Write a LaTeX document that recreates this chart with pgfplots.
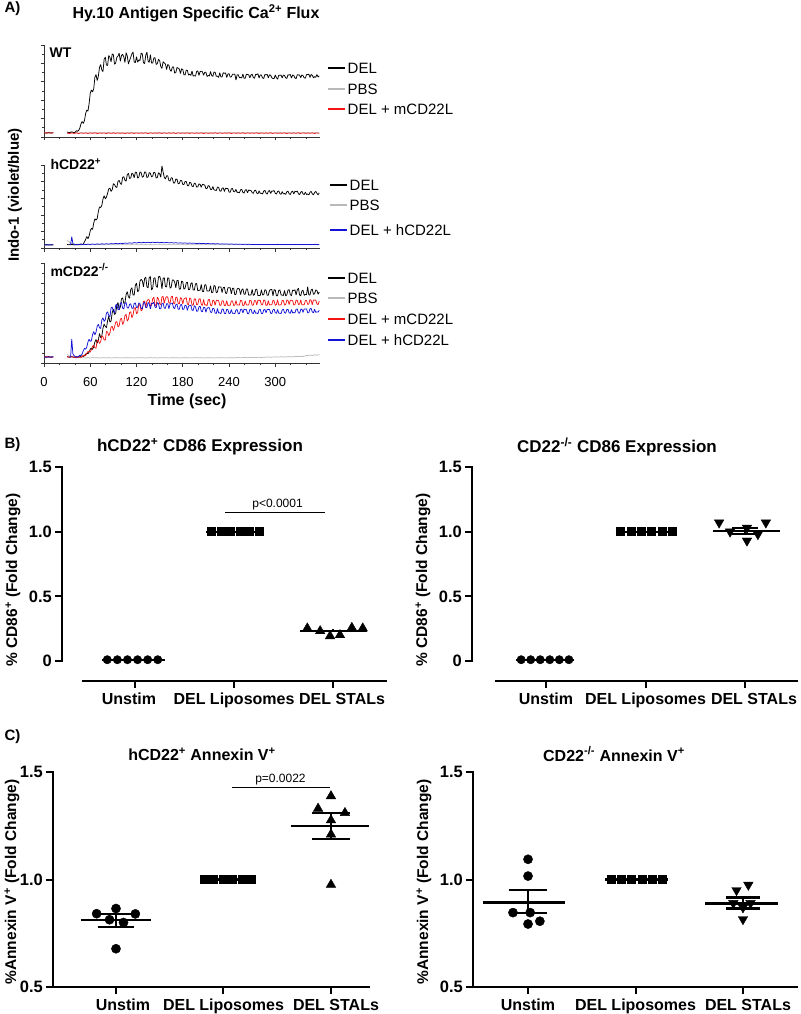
\documentclass[border=0pt]{standalone}
\usepackage{pgfplots}
\pgfplotsset{compat=1.18}
\usepackage{pgfplotstable}
\usepackage{fontspec}
\setmainfont{Liberation Sans}
\newcommand{\fs}[1]{\fontsize{#1}{#1}\selectfont}
\definecolor{tred}{RGB}{245,20,20}
\definecolor{tblue}{RGB}{20,20,215}
\definecolor{tgray}{RGB}{185,185,185}

\pgfplotstableread{
t wtdel wtpbs wtm hdel hpbs hh mdel mpbs mm mh
0 4.6 4.5 4.8 3.8 3.6 4.0 6.2 6.0 5.8 6.3
3 4.2 4.6 4.3 4.1 3.9 3.5 5.8 6.3 6.4 5.7
6 4.8 4.4 4.6 3.6 4.0 3.9 6.4 5.9 6.0 6.1
9 4.3 4.7 4.2 4.0 3.7 3.6 5.9 6.2 5.6 5.8
12 4.6 4.5 4.7 3.7 3.8 4.1 6.1 6.0 6.2 6.4
13 nan nan nan nan nan nan nan nan nan nan
30 5.4 4.6 4.1 4.3 9.5 nan 6.3 8.5 6.4 nan
31.5 5.0 4.5 4.3 4.0 8.2 nan 6.0 7.8 6.0 nan
33 4.7 4.3 3.7 3.8 7.0 4.4 5.8 7.2 5.7 6.1
34.5 5.2 4.6 4.0 4.1 6.0 4.3 6.1 6.7 6.0 5.9
36 5.6 4.8 4.5 4.4 5.2 13.5 6.4 6.3 6.3 24.0
37.5 5.1 4.5 4.2 4.0 4.7 5.2 6.0 5.9 6.0 9.0
39 4.6 4.4 3.9 3.7 4.3 4.6 5.7 5.6 5.8 7.4
40.5 5.3 4.5 4.2 4.0 4.2 4.2 6.0 5.4 5.5 6.4
42 6.8 4.7 4.6 4.2 4.1 3.8 6.3 5.3 5.2 5.7
43.5 6.2 4.5 4.1 4.0 4.0 4.1 6.1 5.4 5.6 6.2
45 7.2 4.3 3.8 3.8 3.9 4.5 5.8 5.5 6.0 6.6
46.5 9.8 4.5 4.2 4.4 4.0 4.3 6.2 5.3 5.9 7.9
48 14.5 4.6 4.4 4.9 4.2 3.9 7.0 5.2 5.6 7.4
49.5 16.9 4.5 4.3 4.4 4.0 4.2 6.9 5.3 6.4 9.1
51 14.8 4.4 4.0 4.6 3.8 4.6 6.6 5.4 7.6 12.3
52.5 18.0 4.5 4.1 7.6 4.0 4.4 7.3 5.2 7.9 14.6
54 25.4 4.7 4.5 10.3 4.1 4.1 8.9 5.1 7.4 13.8
55.5 29.3 4.5 4.2 13.9 4.0 4.3 9.9 5.3 9.6 16.1
57 28.1 4.3 3.9 11.2 3.9 4.7 9.2 5.5 11.4 20.9
58.5 36.2 4.5 4.3 14.4 4.0 4.5 10.8 5.2 11.8 23.8
60 47.6 4.6 4.4 20.7 4.2 4.2 13.8 5.0 10.9 21.6
61.5 51.1 4.5 4.1 23.8 4.0 4.5 14.9 5.2 13.2 22.4
63 49.0 4.5 4.0 22.3 4.0 4.9 13.6 5.3 16.8 28.4
64.5 52.3 4.5 4.2 30.1 4.0 4.6 16.4 5.2 17.6 31.5
66 64.8 4.4 4.6 35.1 3.8 4.3 20.9 5.1 15.2 28.1
67.5 67.9 4.5 4.3 33.6 4.0 4.6 23.6 5.2 14.8 30.9
69 61.3 4.7 3.8 35.5 4.1 5.0 19.8 5.4 22.7 36.7
70.5 66.2 4.5 4.1 44.1 4.0 4.7 22.9 5.2 22.8 38.7
72 75.6 4.3 4.5 49.4 3.9 4.4 29.5 5.0 19.6 35.2
73.5 78.8 4.5 4.2 48.8 4.0 4.8 25.4 5.1 21.3 34.5
75 72.9 4.6 4.1 51.2 4.2 5.1 27.1 5.2 27.3 42.9
76.5 71.1 4.5 4.3 58.9 4.0 4.8 34.8 5.2 26.1 45.2
78 84.4 4.4 4.4 63.1 4.0 4.6 38.9 5.3 23.1 41.5
79.5 86.9 4.5 4.1 59.2 4.0 4.9 36.5 5.2 22.9 43.3
81 78.2 4.5 3.8 61.4 3.8 5.2 35.4 5.1 31.6 49.8
82.5 77.8 4.5 4.2 66.0 4.0 4.9 42.2 5.2 31.0 51.2
84 88.6 4.6 4.5 71.3 4.1 4.7 46.8 5.4 27.2 47.6
85.5 86.6 4.5 4.3 72.1 4.0 5.0 40.9 5.2 30.1 46.1
87 81.7 4.3 4.0 68.2 3.9 5.3 42.1 5.0 35.9 55.1
88.5 90.4 4.5 4.1 70.3 4.0 5.1 50.3 5.1 36.7 55.9
90 89.3 4.7 4.6 77.5 4.2 5.0 53.7 5.2 32.4 51.7
91.5 79.1 4.5 4.2 76.4 4.0 5.2 48.5 5.3 35.9 50.2
93 80.4 4.4 3.9 73.6 4.0 5.5 49.8 5.4 40.8 57.9
94.5 86.7 4.5 4.3 72.9 4.0 5.3 57.8 5.2 41.4 58.8
96 87.9 4.5 4.3 80.4 4.1 5.1 60.6 5.1 36.1 53.3
97.5 91.2 4.5 4.1 81.4 4.0 5.4 53.2 5.2 37.2 53.6
99 82.3 4.6 4.0 77.8 3.9 5.7 55.9 5.3 43.7 59.4
100.5 88.6 4.5 4.2 76.6 4.0 5.5 64.1 5.1 44.8 60.6
102 89.8 4.4 4.5 85.1 4.2 5.4 65.2 5.0 38.5 54.8
103.5 87.2 4.5 4.3 86.0 4.0 5.6 59.6 5.3 40.9 54.1
105 80.9 4.3 3.8 81.6 4.0 6.0 60.3 5.2 47.2 59.9
106.5 91.7 4.5 4.1 80.5 4.0 5.8 68.4 5.2 48.6 60.4
108 88.1 4.6 4.4 88.3 4.1 5.6 71.4 5.4 41.9 55.2
109.5 79.4 4.5 4.2 89.9 4.0 5.9 66.2 5.2 43.9 54.9
111 83.2 4.5 4.1 83.7 3.9 6.2 64.8 5.1 50.6 58.7
112.5 86.6 4.5 4.3 84.4 4.0 6.0 73.5 5.2 51.2 59.2
114 90.4 4.4 4.6 90.2 4.2 5.8 75.3 5.3 45.3 54.9
115.5 92.3 4.5 4.1 89.1 4.0 6.1 67.9 5.1 47.9 54.6
117 81.6 4.7 3.9 84.6 4.0 6.5 68.1 5.0 54.7 59.6
118.5 80.9 4.5 4.2 91.3 4.0 6.3 77.8 5.2 55.4 60.1
120 87.3 4.3 4.4 91.1 4.1 6.0 79.9 5.2 49.2 55.3
121.5 81.2 4.5 4.3 84.2 4.0 6.4 71.3 5.3 50.9 55.9
123 83.9 4.6 4.0 85.4 3.9 6.7 72.4 5.4 58.8 60.1
124.5 83.1 4.5 4.1 91.8 4.0 6.5 82.1 5.2 57.6 59.5
126 91.2 4.5 4.5 90.6 4.2 6.2 83.6 5.1 52.1 54.6
127.5 90.3 4.5 4.2 85.3 4.0 6.5 82.4 5.2 53.4 54.3
129 80.7 4.4 4.1 86.2 4.0 6.8 76.2 5.3 61.5 59.8
130.5 79.8 4.5 4.3 91.5 4.0 6.6 84.4 5.1 61.9 60.8
132 88.8 4.6 4.6 91.4 4.1 6.3 85.9 5.0 55.3 55.7
133.5 92.3 4.5 4.1 84.9 4.0 6.6 76.2 5.3 62.1 55.4
135 82.6 4.3 3.8 85.7 3.9 6.9 75.1 5.2 63.4 60.6
136.5 81.1 4.5 4.2 90.8 4.0 6.7 85.6 5.2 63.1 59.2
138 89.5 4.5 4.4 90.1 4.2 6.4 86.4 5.4 56.9 54.1
139.5 80.4 4.5 4.3 85.6 4.0 6.7 73.1 5.2 57.8 59.8
141 80.3 4.7 4.0 86.8 4.0 7.0 74.8 5.1 64.2 59.3
142.5 85.9 4.5 4.1 91.4 4.0 6.7 84.8 5.2 65.7 60.8
144 86.2 4.4 4.5 90.7 4.1 6.5 85.2 5.3 58.1 55.8
145.5 78.8 4.5 4.2 84.2 4.0 6.7 76.7 5.1 57.2 55.4
147 79.8 4.6 4.1 84.9 3.9 6.9 75.6 5.0 65.7 60.4
148.5 84.5 4.5 4.3 90.7 4.0 6.6 86.1 5.3 64.1 59.3
150 83.1 4.3 4.6 89.4 4.2 6.4 86.7 5.2 59.2 54.2
151.5 76.4 4.5 4.1 85.1 4.0 6.6 83.1 5.2 58.3 54.3
153 74.6 4.5 3.9 99.0 4.0 6.8 74.2 5.4 66.1 59.5
154.5 81.9 4.5 4.2 91.5 4.0 6.5 84.6 5.2 66.5 59.8
156 80.4 4.6 4.4 85.2 4.1 6.3 85.3 5.1 59.6 54.9
157.5 79.4 4.5 4.3 83.1 4.0 6.5 76.4 5.2 64.8 54.8
159 73.2 4.4 4.0 86.9 3.9 6.7 76.1 5.3 66.4 59.2
160.5 78.8 4.5 4.1 86.9 4.0 6.4 85.2 5.1 65.9 59.2
162 77.9 4.5 4.5 81.3 4.2 6.2 84.7 5.0 60.1 54.3
163.5 72.9 4.5 4.2 80.6 4.0 6.4 74.8 5.3 59.8 58.9
165 71.4 4.3 4.1 84.8 4.0 6.5 75.8 5.2 66.2 59.7
166.5 76.1 4.5 4.3 84.1 4.0 6.3 83.1 5.2 66.8 59.9
168 76.2 4.6 4.6 78.2 4.1 6.1 82.9 5.4 59.8 55.4
169.5 69.4 4.5 4.1 78.4 4.0 6.2 81.0 5.2 59.2 54.4
171 70.1 4.4 3.8 83.1 3.9 6.4 75.2 5.1 65.9 58.3
172.5 75.6 4.5 4.2 82.8 4.0 6.1 82.6 5.2 65.4 58.9
174 74.8 4.7 4.4 77.4 4.2 6.0 82.6 5.3 59.7 53.8
175.5 74.0 4.5 4.3 77.9 4.0 6.1 73.8 5.1 59.1 53.7
177 68.9 4.5 4.0 81.2 4.0 6.2 74.1 5.0 65.4 58.1
178.5 74.1 4.5 4.1 81.3 4.0 6.0 81.9 5.3 64.4 58.5
180 73.4 4.3 4.5 76.6 4.1 5.8 81.3 5.2 59.0 53.5
181.5 67.6 4.5 4.2 76.4 4.0 5.9 73.8 5.2 63.9 53.9
183 67.5 4.6 4.1 80.1 3.9 6.1 74.7 5.4 64.8 57.9
184.5 72.8 4.5 4.3 80.2 4.0 5.9 80.2 5.2 65.2 57.2
186 72.2 4.4 4.6 75.3 4.2 5.7 80.8 5.1 58.9 52.6
187.5 67.4 4.5 4.1 74.9 4.0 5.8 73.1 5.2 58.3 56.9
189 68.3 4.5 3.9 79.2 4.0 6.0 73.6 5.3 65.1 57.4
190.5 67.0 4.5 4.2 78.5 4.0 5.8 79.4 5.1 64.0 57.9
192 71.8 4.6 4.4 74.6 4.1 5.6 80.4 5.0 58.3 52.8
193.5 66.2 4.5 4.3 73.8 4.0 5.7 72.9 5.3 57.6 52.6
195 66.7 4.3 4.0 78.1 3.9 5.8 72.9 5.2 64.2 57.3
196.5 66.1 4.5 4.1 77.4 4.0 5.6 79.2 5.2 63.9 56.2
198 71.3 4.5 4.5 73.4 4.2 5.4 79.5 5.4 58.4 51.7
199.5 71.9 4.5 4.2 73.8 4.0 5.5 72.1 5.2 58.7 51.9
201 66.9 4.4 4.1 77.2 4.0 5.7 72.8 5.1 63.9 56.2
202.5 71.1 4.5 4.3 76.6 4.0 5.5 72.8 5.2 64.4 56.8
204 71.5 4.7 4.6 73.1 4.1 5.3 78.6 5.3 58.7 51.9
205.5 70.9 4.5 4.1 76.8 4.0 5.4 71.6 5.1 57.6 51.2
207 67.2 4.5 3.8 76.3 3.9 5.5 71.4 5.0 63.6 55.6
208.5 70.4 4.5 4.2 75.8 4.0 5.3 78.1 5.3 58.0 55.6
210 70.4 4.3 4.4 71.6 4.2 5.2 78.2 5.2 58.2 50.8
211.5 65.7 4.5 4.3 71.7 4.0 5.3 71.9 5.2 57.3 54.6
213 66.8 4.6 4.0 75.2 4.0 5.4 72.1 5.4 63.2 55.4
214.5 66.4 4.5 4.1 74.6 4.0 5.2 72.1 5.2 63.6 55.3
216 71.1 4.4 4.5 70.7 4.1 5.0 77.3 5.1 57.9 50.9
217.5 66.8 4.5 4.2 70.4 4.0 5.1 70.3 5.2 57.2 50.5
219 65.9 4.5 4.1 74.1 3.9 5.3 70.8 5.3 62.8 54.7
220.5 70.6 4.5 4.3 70.1 4.0 5.1 77.6 5.1 62.3 54.3
222 70.3 4.6 4.6 69.6 4.2 4.9 76.9 5.0 57.6 49.8
223.5 65.9 4.5 4.1 69.3 4.0 5.0 70.1 5.3 62.7 49.6
225 66.2 4.3 3.9 73.4 4.0 5.1 71.2 5.2 62.6 54.5
226.5 64.8 4.5 4.2 73.1 4.0 5.0 76.2 5.2 62.4 50.0
228 69.8 4.5 4.4 68.8 4.1 4.8 76.1 5.4 57.7 50.2
229.5 65.1 4.5 4.3 68.4 4.0 4.9 76.0 5.2 57.6 49.4
231 65.4 4.4 4.0 72.1 3.9 5.0 70.4 5.1 62.3 54.0
232.5 69.9 4.5 4.1 72.4 4.0 4.9 75.4 5.2 62.1 53.7
234 69.2 4.7 4.5 68.2 4.2 4.7 75.8 5.3 57.4 49.7
235.5 69.7 4.5 4.2 72.0 4.0 4.8 69.9 5.1 57.7 49.2
237 64.6 4.5 4.1 71.6 4.0 4.9 69.5 5.0 62.4 53.6
238.5 68.4 4.5 4.3 71.7 4.0 4.8 75.1 5.3 57.5 53.4
240 68.9 4.3 4.6 67.4 4.1 4.6 75.4 5.2 57.8 49.5
241.5 65.1 4.5 4.1 67.2 4.0 4.7 75.2 5.2 57.8 49.7
243 65.3 4.6 3.8 71.3 3.9 4.8 69.2 5.4 62.1 53.4
244.5 68.2 4.5 4.2 71.6 4.0 4.7 74.6 5.2 62.1 49.6
246 68.1 4.4 4.4 67.8 4.2 4.5 74.9 5.1 57.6 49.8
247.5 68.4 4.5 4.3 67.9 4.0 4.6 68.2 5.2 57.9 49.3
249 61.8 4.5 4.0 70.6 4.0 4.7 68.7 5.3 62.5 53.1
250.5 67.5 4.5 4.1 66.9 4.0 4.6 74.1 5.4 57.9 53.4
252 67.6 4.6 4.5 67.2 4.1 4.4 74.6 5.5 57.9 49.3
253.5 64.4 4.5 4.2 66.4 4.0 4.5 73.9 5.3 58.1 49.2
255 64.7 4.3 4.1 70.1 3.9 4.6 68.4 5.2 62.7 53.5
256.5 64.2 4.5 4.3 70.7 4.0 4.5 73.2 5.3 62.2 53.8
258 68.4 4.5 4.6 66.9 4.2 4.3 74.2 5.4 57.4 49.9
259.5 63.8 4.5 4.1 66.1 4.0 4.4 68.7 5.5 57.8 53.9
261 63.9 4.4 3.9 69.8 4.0 4.5 68.9 5.6 62.2 53.2
262.5 68.2 4.5 4.2 70.3 4.0 4.4 74.1 5.4 58.1 53.5
264 67.9 4.6 4.4 66.5 4.1 4.3 73.8 5.3 58.1 49.4
265.5 67.6 4.5 4.3 69.9 4.0 4.4 67.8 5.4 58.1 49.3
267 64.3 4.5 4.0 69.4 3.9 4.4 68.1 5.5 62.9 53.6
268.5 67.5 4.5 4.1 69.2 4.0 4.3 68.1 5.6 62.5 53.9
270 68.2 4.3 4.5 66.8 4.2 4.2 73.6 5.7 57.8 50.1
271.5 64.7 4.5 4.2 65.8 4.0 4.3 67.6 5.5 57.9 49.4
273 63.8 4.6 4.1 69.1 4.0 4.3 68.4 5.4 62.4 53.0
274.5 68.1 4.5 4.3 69.6 4.0 4.3 73.4 5.5 62.3 49.8
276 67.8 4.4 4.6 66.2 4.1 4.2 73.9 5.6 57.9 50.0
277.5 68.8 4.5 4.1 65.4 4.0 4.3 67.4 5.7 62.9 49.2
279 64.1 4.5 3.8 68.8 3.9 4.4 67.6 5.8 62.6 53.3
280.5 67.5 4.5 4.2 65.8 4.0 4.3 67.5 5.6 62.6 53.7
282 67.3 4.7 4.4 65.9 4.2 4.1 73.2 5.5 58.2 49.6
283.5 64.2 4.5 4.3 65.1 4.0 4.2 68.1 5.6 58.2 49.3
285 63.6 4.4 4.0 68.6 4.0 4.3 68.2 5.7 63.1 53.1
286.5 67.9 4.5 4.1 69.5 4.0 4.2 73.3 5.8 62.4 53.6
288 67.7 4.6 4.5 66.1 4.1 4.2 72.8 5.9 57.6 50.2
289.5 67.9 4.5 4.2 64.9 4.0 4.3 67.7 6.0 57.8 53.6
291 64.4 4.3 4.1 68.3 3.9 4.4 67.9 6.1 62.4 53.4
292.5 67.6 4.5 4.3 69.3 4.0 4.3 72.5 5.9 58.0 53.5
294 67.1 4.5 4.6 65.7 4.2 4.1 73.4 5.8 58.3 49.8
295.5 64.4 4.5 4.1 68.7 4.0 4.2 73.6 5.9 58.2 49.4
297 63.5 4.4 3.9 68.4 4.0 4.3 67.2 6.0 62.8 53.2
298.5 63.6 4.5 4.2 69.2 4.0 4.3 73.4 6.1 62.1 53.8
300 67.4 4.6 4.4 65.8 4.1 4.2 72.9 6.2 57.7 50.3
301.5 64.3 4.5 4.3 64.9 4.0 4.3 67.1 6.0 58.6 49.7
303 62.9 4.5 4.0 68.1 3.9 4.4 67.5 5.9 63.2 53.6
304.5 67.0 4.5 4.1 68.8 4.0 4.2 72.6 6.0 57.9 49.7
306 67.2 4.3 4.5 65.5 4.2 4.1 73.1 6.1 58.1 49.9
307.5 67.3 4.5 4.2 64.7 4.0 4.2 68.2 6.2 58.2 49.4
309 64.2 4.6 4.1 68.0 4.0 4.3 67.8 6.3 62.6 53.1
310.5 67.4 4.5 4.3 65.2 4.0 4.3 67.6 6.1 62.4 53.9
312 66.8 4.4 4.6 65.6 4.1 4.2 72.6 6.0 57.9 50.4
313.5 64.3 4.5 4.1 64.6 4.0 4.3 67.1 6.1 58.5 49.8
315 63.7 4.5 3.8 67.9 3.9 4.4 68.3 6.2 63.0 53.5
316.5 67.6 4.5 4.2 68.5 4.0 4.2 72.9 6.3 62.6 53.6
318 67.3 4.7 4.4 65.3 4.2 4.1 73.3 6.4 58.4 50.0
319.5 68.0 4.5 4.3 64.4 4.0 4.2 68.3 6.2 62.6 49.8
321 64.0 4.4 4.0 67.6 4.0 4.3 67.4 6.1 62.7 53.4
322.5 67.4 4.5 4.1 68.5 4.0 4.3 72.9 6.2 62.4 50.0
324 66.9 4.6 4.5 65.1 4.1 4.2 72.4 6.3 58.0 50.5
325.5 64.2 4.5 4.2 68.4 4.0 4.3 73.2 6.4 58.4 50.1
327 63.4 4.3 4.1 67.7 3.9 4.4 68.0 6.6 62.9 53.8
328.5 67.6 4.5 4.3 68.6 4.0 4.2 73.1 6.5 62.7 53.9
330 67.5 4.5 4.6 65.4 4.2 4.1 74.8 6.4 58.5 50.1
331.5 67.4 4.5 4.1 64.2 4.0 4.2 68.0 6.6 58.8 49.8
333 64.5 4.4 3.9 67.2 4.0 4.3 67.3 6.8 63.1 53.4
334.5 67.5 4.5 4.2 68.3 4.0 4.3 72.0 6.6 58.3 54.0
336 66.6 4.6 4.4 65.2 4.1 4.2 72.8 6.5 58.2 50.6
337.5 64.3 4.5 4.3 64.4 4.0 4.3 67.7 6.8 58.3 54.1
339 63.9 4.5 4.0 67.4 3.9 4.4 68.6 7.2 62.4 53.9
340.5 67.8 4.5 4.1 64.5 4.0 4.2 68.3 7.4 62.5 54.1
342 67.8 4.3 4.5 65.0 4.2 4.1 76.2 7.6 58.6 50.3
343.5 68.3 4.5 4.2 64.0 4.0 4.2 68.1 7.7 59.0 50.2
345 64.8 4.6 4.1 67.1 4.0 4.3 68.1 7.9 63.4 54.2
346.5 67.9 4.5 4.3 68.2 4.0 4.3 73.0 7.7 62.8 54.6
348 67.1 4.4 4.6 65.3 4.1 4.2 73.9 7.5 58.3 51.0
349.5 64.3 4.5 4.1 64.0 4.0 4.3 68.6 7.8 63.1 50.3
351 65.6 4.5 3.8 66.8 3.9 4.4 69.4 8.2 62.8 53.7
352.5 64.9 4.5 4.2 68.3 4.0 4.2 73.0 8.0 62.9 50.6
354 68.0 4.7 4.4 65.9 4.2 4.1 72.6 7.8 59.1 51.2
355.5 65.2 4.5 4.3 64.1 4.0 4.2 68.7 8.1 58.4 50.9
357 66.5 4.4 4.0 66.4 4.0 4.3 70.9 8.4 61.8 52.6
}\fluxdata

\pgfplotsset{
  fluxax/.style={
    scale only axis, width=276pt,
    xmin=0, xmax=358, ymin=0, ymax=100,
    axis x line=bottom, axis y line=left,
    axis line style={-, line width=0.8pt, black!80},
    xtick={0,60,...,300}, minor xtick={0,20,...,340},
    ytick={0,20,...,100}, minor ytick={10,30,...,90},
    yticklabels={}, xticklabels={},
    tick align=outside, major tick length=3.5pt, minor tick length=2pt,
    every tick/.style={line width=0.6pt, black!80},
    unbounded coords=jump, clip=true,
    every axis plot/.append style={line width=0.75pt, mark=none, line join=bevel},
  },
  dotax/.style={
    scale only axis, clip=false,
    axis x line=bottom, axis y line=left,
    axis line style={-, draw=none},
    xtick={0,1,2},
    tick align=outside, major tick length=7pt,
    every tick/.style={line width=2pt, black},
    minor tick num=0,
    xticklabel style={font=\bfseries\fs{16}, inner sep=2pt, yshift=-3pt},
    yticklabel style={font=\bfseries\fs{16.5}, inner sep=3pt},
    every axis plot/.append style={black},
  },
  dots/.style={only marks, mark=*, mark size=4.2pt, mark options={fill=black, draw=black}},
  sqs/.style={only marks, mark=square*, mark size=4pt, mark options={fill=black, draw=black}},
  tris/.style={only marks, mark=triangle*, mark size=5.5pt, mark options={fill=black, draw=black}},
  dtris/.style={only marks, mark=triangle*, mark size=5.5pt, mark options={fill=black, draw=black, rotate=180}},
  mline/.style={line width=2.2pt, mark=none, black},
}

\begin{document}
\begin{tikzpicture}
\path[use as bounding box] (0,0) rectangle (800pt,-1014pt);

% ---------------- Panel A ----------------
\node[anchor=west, font=\bfseries\fs{15}] at (1pt,-9pt) {A)};
\node[font=\bfseries\fs{16}] at (196pt,-13pt) {Hy.10 Antigen Specific Ca\textsuperscript{2+} Flux};
\node[rotate=90, font=\bfseries\fs{15}] at (15pt,-195pt) {Indo-1 (violet/blue)};

\begin{axis}[fluxax, at={(44pt,-137pt)}, anchor=south west, height=92pt]
\addplot[tgray] table[x=t, y=wtpbs] {\fluxdata};
\addplot[black] table[x=t, y=wtdel] {\fluxdata};
\addplot[tred] table[x=t, y=wtm] {\fluxdata};
\end{axis}
\node[anchor=west, font=\bfseries\fs{14}] at (46pt,-53pt) {WT};

\begin{axis}[fluxax, at={(44pt,-248pt)}, anchor=south west, height=83pt]
\addplot[tgray] table[x=t, y=hpbs] {\fluxdata};
\addplot[black] table[x=t, y=hdel] {\fluxdata};
\addplot[tblue] table[x=t, y=hh] {\fluxdata};
\end{axis}
\node[anchor=west, font=\bfseries\fs{14}] at (47pt,-164pt) {hCD22\textsuperscript{+}};

\begin{axis}[fluxax, at={(44pt,-363pt)}, anchor=south west, height=100pt,
  xticklabels={0,60,120,180,240,300},
  xticklabel style={font=\fs{13}, yshift=-7pt}]
\addplot[tgray] table[x=t, y=mpbs] {\fluxdata};
\addplot[black] table[x=t, y=mdel] {\fluxdata};
\addplot[tred] table[x=t, y=mm] {\fluxdata};
\addplot[tblue] table[x=t, y=mh] {\fluxdata};
\end{axis}
\node[anchor=west, font=\bfseries\fs{14}] at (47pt,-270pt) {mCD22\textsuperscript{-/-}};
\node[font=\bfseries\fs{16}] at (187pt,-401pt) {Time (sec)};

% legends
\foreach \yy/\cc/\tt in {68/black/DEL, 89/tgray/PBS, 109/tred/DEL + mCD22L}{
  \draw[\cc, line width=1.3pt] (328pt,-\yy pt) -- (345pt,-\yy pt);
  \node[anchor=west, font=\fs{15}, inner sep=1.5pt] at (346pt,-\yy pt) {\tt};
}
\foreach \yy/\cc/\tt in {185/black/DEL, 205/tgray/PBS, 230/tblue/DEL + hCD22L}{
  \draw[\cc, line width=1.3pt] (330pt,-\yy pt) -- (347pt,-\yy pt);
  \node[anchor=west, font=\fs{15}, inner sep=1.5pt] at (348pt,-\yy pt) {\tt};
}
\foreach \yy/\cc/\tt in {278/black/DEL, 298/tgray/PBS, 319/tred/DEL + mCD22L, 340/tblue/DEL + hCD22L}{
  \draw[\cc, line width=1.3pt] (328pt,-\yy pt) -- (345pt,-\yy pt);
  \node[anchor=west, font=\fs{15}, inner sep=1.5pt] at (346pt,-\yy pt) {\tt};
}

% ---------------- Panel B ----------------
\node[anchor=west, font=\bfseries\fs{15}] at (1pt,-445pt) {B)};
\node[font=\bfseries\fs{17}] at (200pt,-447pt) {hCD22\textsuperscript{+} CD86 Expression};
\node[font=\bfseries\fs{17}] at (617pt,-447pt) {CD22\textsuperscript{-/-} CD86 Expression};
\node[rotate=90, font=\bfseries\fs{15.5}] at (13pt,-580pt) {\% CD86\textsuperscript{+} (Fold Change)};
\node[rotate=90, font=\bfseries\fs{15.5}] at (423pt,-580pt) {\% CD86\textsuperscript{+} (Fold Change)};

\begin{axis}[dotax, at={(62pt,-681pt)}, anchor=south west, width=325pt, height=214pt,
  xmin=-0.737, xmax=2.545, ymin=-0.1546, ymax=1.5,
  xticklabels={\hspace{-12pt}Unstim, DEL Liposomes, \hspace{18pt}DEL STALs},
  ytick={0,0.5,1,1.5}, yticklabels={0,0.5,1.0,1.5}]
\draw[line width=2pt] (axis cs:-0.737,-0.006) -- (axis cs:-0.737,1.506);
\draw[line width=2pt] (axis cs:-0.535,-0.1546) -- (axis cs:2.545,-0.1546);
\addplot[mline] coordinates {(-0.33,0.01) (0.30,0.01)};
\addplot[dots] coordinates {(-0.28,0.01) (-0.178,0.01) (-0.076,0.01) (0.026,0.01) (0.128,0.01) (0.23,0.01)};
\addplot[mline] coordinates {(0.72,1) (1.3,1)};
\addplot[sqs] coordinates {(0.77,1) (0.866,1) (0.962,1) (1.058,1) (1.154,1) (1.25,1)};
\addplot[mline] coordinates {(1.67,0.234) (2.34,0.234)};
\addplot[mline] coordinates {(2,0.222) (2,0.246)};
\addplot[tris] coordinates {(1.74,0.253) (1.87,0.232) (1.97,0.193) (2.07,0.201) (2.19,0.257) (2.3,0.253)};
\draw[line width=0.9pt] (axis cs:0.91,1.152) -- (axis cs:1.92,1.152);
\node[font=\fs{12}] at (axis cs:1.44,1.21) {p<0.0001};
\end{axis}

\begin{axis}[dotax, at={(472pt,-681pt)}, anchor=south west, width=326pt, height=214pt,
  xmin=-0.744, xmax=2.533, ymin=-0.1546, ymax=1.5,
  xticklabels={Unstim, DEL Liposomes, \hspace{18pt}DEL STALs},
  ytick={0,0.5,1,1.5}, yticklabels={0,0.5,1.0,1.5}]
\draw[line width=2pt] (axis cs:-0.744,-0.006) -- (axis cs:-0.744,1.506);
\draw[line width=2pt] (axis cs:-0.513,-0.1546) -- (axis cs:2.533,-0.1546);
\addplot[mline] coordinates {(-0.30,0.01) (0.28,0.01)};
\addplot[dots] coordinates {(-0.25,0.01) (-0.154,0.01) (-0.058,0.01) (0.038,0.01) (0.134,0.01) (0.23,0.01)};
\addplot[mline] coordinates {(0.7,1) (1.32,1)};
\addplot[sqs] coordinates {(0.75,1) (0.854,1) (0.958,1) (1.062,1) (1.166,1) (1.27,1)};
\addplot[dtris] coordinates {(1.74,1.07) (1.85,1.0) (2.02,1.03) (2.02,0.93) (2.13,0.98) (2.21,1.07)};
\addplot[mline] coordinates {(1.68,1.005) (2.35,1.005)};
\addplot[mline] coordinates {(2,0.98) (2,1.03)};
\addplot[mline] coordinates {(1.87,0.98) (2.13,0.98)};
\addplot[mline] coordinates {(1.87,1.03) (2.13,1.03)};
\end{axis}

% ---------------- Panel C ----------------
\node[anchor=west, font=\bfseries\fs{15}] at (1pt,-737pt) {C)};
\node[font=\bfseries\fs{16}] at (202pt,-754pt) {hCD22\textsuperscript{+} Annexin V\textsuperscript{+}};
\node[font=\bfseries\fs{16}] at (614pt,-754pt) {CD22\textsuperscript{-/-} Annexin V\textsuperscript{+}};
\node[rotate=90, font=\bfseries\fs{15.5}] at (12pt,-882pt) {\%Annexin V\textsuperscript{+} (Fold Change)};
\node[rotate=90, font=\bfseries\fs{15.5}] at (424pt,-882pt) {\%Annexin V\textsuperscript{+} (Fold Change)};

\begin{axis}[dotax, at={(53pt,-987pt)}, anchor=south west, width=317pt, height=215pt,
  xmin=-0.586, xmax=2.363, ymin=0.5, ymax=1.5,
  xticklabels={\hspace{14pt}Unstim, DEL Liposomes, \hspace{10pt}DEL STALs},
  ytick={0.5,1,1.5}, yticklabels={0.5,1.0,1.5}]
\draw[line width=2pt] (axis cs:-0.586,0.5) -- (axis cs:-0.586,1.503);
\draw[line width=2pt] (axis cs:-0.586,0.5) -- (axis cs:2.363,0.5);
\addplot[dots, mark size=4.6pt] coordinates {(-0.18,0.841) (0,0.865) (-0.06,0.813) (0.07,0.80) (0.18,0.84) (0,0.678)};
\addplot[mline] coordinates {(-0.33,0.81) (0.33,0.81)};
\addplot[mline] coordinates {(0,0.78) (0,0.84)};
\addplot[mline] coordinates {(-0.17,0.78) (0.17,0.78)};
\addplot[mline] coordinates {(-0.17,0.84) (0.17,0.84)};
\addplot[mline] coordinates {(0.78,1) (1.3,1)};
\addplot[sqs] coordinates {(0.82,1) (0.908,1) (0.996,1) (1.084,1) (1.172,1) (1.26,1)};
\addplot[tris] coordinates {(2,1.388) (1.88,1.33) (2.13,1.31) (2,1.276) (2,1.21) (2,0.976)};
\addplot[mline] coordinates {(1.63,1.248) (2.35,1.248)};
\addplot[mline] coordinates {(2,1.19) (2,1.31)};
\addplot[mline] coordinates {(1.82,1.19) (2.18,1.19)};
\addplot[mline] coordinates {(1.82,1.31) (2.18,1.31)};
\draw[line width=0.9pt] (axis cs:1.08,1.426) -- (axis cs:1.99,1.426);
\node[font=\fs{12}] at (axis cs:1.53,1.465) {p=0.0022};
\end{axis}

\begin{axis}[dotax, at={(473pt,-987pt)}, anchor=south west, width=325pt, height=215pt,
  xmin=-0.512, xmax=2.512, ymin=0.5, ymax=1.5,
  xticklabels={Unstim, DEL Liposomes, \hspace{10pt}DEL STALs},
  ytick={0.5,1,1.5}, yticklabels={0.5,1.0,1.5}]
\draw[line width=2pt] (axis cs:-0.512,0.5) -- (axis cs:-0.512,1.503);
\draw[line width=2pt] (axis cs:-0.512,0.5) -- (axis cs:2.512,0.5);
\addplot[dots, mark size=4.6pt] coordinates {(0,1.094) (0,1.016) (-0.14,0.846) (0.02,0.846) (0,0.793) (0.11,0.806)};
\addplot[mline] coordinates {(-0.42,0.893) (0.34,0.893)};
\addplot[mline] coordinates {(0,0.846) (0,0.95)};
\addplot[mline] coordinates {(-0.18,0.846) (0.18,0.846)};
\addplot[mline] coordinates {(-0.18,0.95) (0.18,0.95)};
\addplot[mline] coordinates {(0.72,1) (1.3,1)};
\addplot[sqs] coordinates {(0.77,1) (0.866,1) (0.962,1) (1.058,1) (1.154,1) (1.25,1)};
\addplot[dtris] coordinates {(1.94,0.95) (2.05,0.975) (1.91,0.89) (2.07,0.89) (2,0.87) (2,0.815)};
\addplot[mline] coordinates {(1.65,0.888) (2.33,0.888)};
\addplot[mline] coordinates {(2,0.865) (2,0.916)};
\addplot[mline] coordinates {(1.84,0.865) (2.16,0.865)};
\addplot[mline] coordinates {(1.84,0.916) (2.16,0.916)};
\end{axis}
\end{tikzpicture}
\end{document}
